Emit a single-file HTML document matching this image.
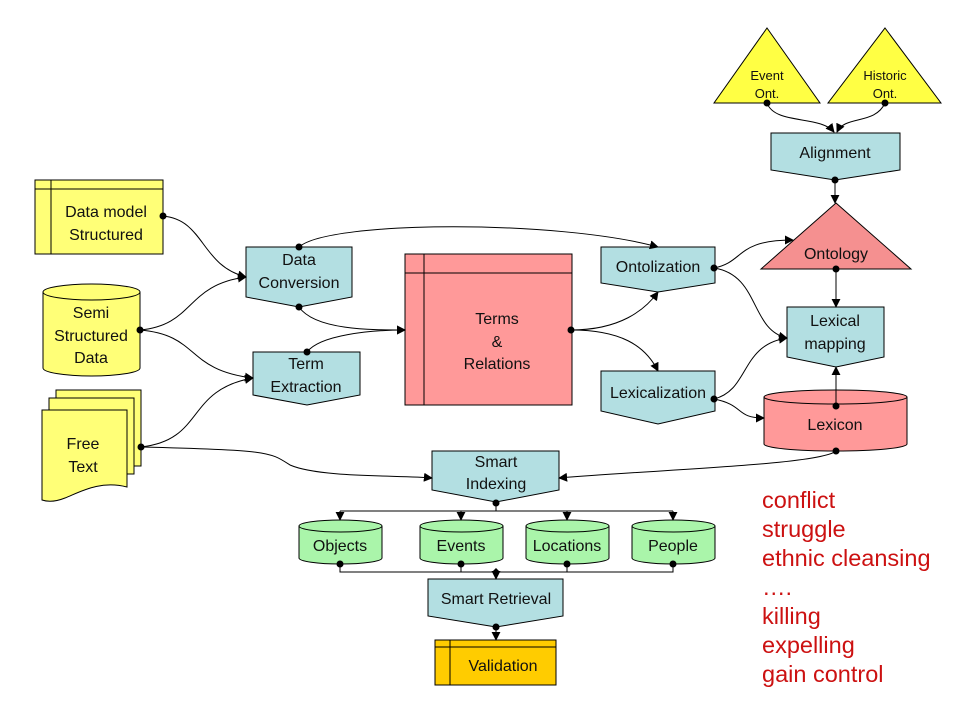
<!DOCTYPE html>
<html><head><meta charset="utf-8"><style>
html,body{margin:0;padding:0;background:#fff;width:960px;height:720px;overflow:hidden}
svg{display:block}
text{font-family:"Liberation Sans",Arial,sans-serif;fill:#111;text-anchor:middle}
.s{stroke:#000;stroke-width:1}
.l{fill:none;stroke:#000;stroke-width:1}
</style></head><body>
<svg width="960" height="720" viewBox="0 0 960 720" xmlns="http://www.w3.org/2000/svg">
<defs>
<marker id="a" viewBox="0 0 10 10" refX="9" refY="5" markerWidth="9" markerHeight="9" orient="auto" markerUnits="userSpaceOnUse"><path d="M0,0L10,5L0,10z" fill="#000"/></marker>
</defs>
<g font-size="16">
<rect x="35" y="180" width="128" height="74" fill="#ffff77" class="s"/>
<line x1="35" y1="189" x2="163" y2="189" class="s"/><line x1="51" y1="180" x2="51" y2="254" class="s"/>
<text x="106" y="217">Data model</text><text x="106" y="240">Structured</text>
<path d="M43,292 L43,368 A48.5,8 0 0 0 140,368 L140,292" fill="#ffff77" class="s"/>
<ellipse cx="91.5" cy="292" rx="48.5" ry="8" fill="#ffff77" class="s"/>
<text x="91" y="318">Semi</text><text x="91" y="341">Structured</text><text x="91" y="363">Data</text>
<rect x="56" y="390" width="85" height="76" fill="#ffff77" class="s"/>
<rect x="49" y="398" width="85" height="76" fill="#ffff77" class="s"/>
<path d="M42,410 L127,410 L127,487 C100,480 80,492 65,498 C55,502 48,502 42,500 Z" fill="#ffff77" class="s"/>
<text x="83" y="449">Free</text><text x="83" y="472">Text</text>
<path d="M246,247 L352,247 L352,297 L299,307 L246,297 Z" fill="#b3dfe2" class="s"/>
<text x="299" y="265">Data</text><text x="299" y="288">Conversion</text>
<path d="M253,352 L360,352 L360,395 L307,405 L253,395 Z" fill="#b3dfe2" class="s"/>
<text x="306" y="369">Term</text><text x="306" y="392">Extraction</text>
<rect x="405" y="254" width="167" height="151" fill="#ff9999" class="s"/>
<line x1="405" y1="273" x2="572" y2="273" class="s"/><line x1="424" y1="254" x2="424" y2="405" class="s"/>
<text x="497" y="324">Terms</text><text x="497" y="347">&amp;</text><text x="497" y="369">Relations</text>
<path d="M601,247 L715,247 L715,283 L658,292 L601,283 Z" fill="#b3dfe2" class="s"/>
<text x="658" y="272">Ontolization</text>
<path d="M601,371 L715,371 L715,411 L658,424 L601,411 Z" fill="#b3dfe2" class="s"/>
<text x="658" y="398">Lexicalization</text>
<path d="M767,28 L820,103 L714,103 Z" fill="#ffff44" class="s"/>
<path d="M885,28 L941,103 L828,103 Z" fill="#ffff44" class="s"/>
<text x="767" y="80" font-size="13">Event</text><text x="767" y="98" font-size="13">Ont.</text>
<text x="885" y="80" font-size="13">Historic</text><text x="885" y="98" font-size="13">Ont.</text>
<path d="M771,133 L900,133 L900,170 L835,180 L771,170 Z" fill="#b3dfe2" class="s"/>
<text x="835" y="158">Alignment</text>
<path d="M836,203 L911,269 L761,269 Z" fill="#f59090" class="s"/>
<text x="836" y="259">Ontology</text>
<path d="M787,307 L884,307 L884,357 L836,367 L787,357 Z" fill="#b3dfe2" class="s"/>
<text x="835" y="326">Lexical</text><text x="835" y="349">mapping</text>
<path d="M764,397 L764,444 A71.5,7 0 0 0 907,444 L907,397" fill="#ff9999" class="s"/>
<ellipse cx="835.5" cy="397" rx="71.5" ry="7" fill="#ff9999" class="s"/>
<text x="835" y="430">Lexicon</text>
<path d="M432,451 L559,451 L559,490 L496,502 L432,490 Z" fill="#b3dfe2" class="s"/>
<text x="496" y="467">Smart</text><text x="496" y="489">Indexing</text>
<g fill="#aaf5aa">
<path d="M299,526 L299,558 A41.5,6 0 0 0 382,558 L382,526" class="s"/><ellipse cx="340.5" cy="526" rx="41.5" ry="6" class="s"/>
<path d="M420,526 L420,558 A41.5,6 0 0 0 503,558 L503,526" class="s"/><ellipse cx="461.5" cy="526" rx="41.5" ry="6" class="s"/>
<path d="M526,526 L526,558 A41.5,6 0 0 0 609,558 L609,526" class="s"/><ellipse cx="567.5" cy="526" rx="41.5" ry="6" class="s"/>
<path d="M632,526 L632,558 A41.5,6 0 0 0 715,558 L715,526" class="s"/><ellipse cx="673.5" cy="526" rx="41.5" ry="6" class="s"/>
</g>
<text x="340" y="551">Objects</text><text x="461" y="551">Events</text><text x="567" y="551">Locations</text><text x="673" y="551">People</text>
<path d="M428,579 L563,579 L563,616 L496,627 L428,616 Z" fill="#b3dfe2" class="s"/>
<text x="496" y="604">Smart Retrieval</text>
<rect x="435" y="640" width="121" height="45" fill="#ffcc00" class="s"/>
<line x1="435" y1="647" x2="556" y2="647" class="s"/><line x1="450" y1="640" x2="450" y2="685" class="s"/>
<text x="503" y="671">Validation</text>
</g>
<g class="l">
<path d="M163,216 C205,220 200,265 246,277" marker-end="url(#a)"/>
<path d="M140,330 C195,325 185,285 246,277" marker-end="url(#a)"/>
<path d="M140,330 C200,335 185,370 253,378" marker-end="url(#a)"/>
<path d="M141,447 C205,440 185,390 253,378" marker-end="url(#a)"/>
<path d="M141,447 C270,450 270,452 290,465 C320,478 400,475 432,478" marker-end="url(#a)"/>
<path d="M299,307 C315,330 370,330 405,330" marker-end="url(#a)"/>
<path d="M307,352 C320,335 370,330 405,330" marker-end="url(#a)"/>
<path d="M299,247 C330,220 560,220 658,247" marker-end="url(#a)"/>
<path d="M571,330 C620,330 645,310 658,292" marker-end="url(#a)"/>
<path d="M571,330 C620,330 645,345 658,371" marker-end="url(#a)"/>
<path d="M714,268 C745,262 735,240 793,240" marker-end="url(#a)"/>
<path d="M714,268 C760,275 750,330 787,338" marker-end="url(#a)"/>
<path d="M714,399 C750,390 740,345 787,338" marker-end="url(#a)"/>
<path d="M714,399 C745,405 735,418 764,418" marker-end="url(#a)"/>
<path d="M767,103 C775,125 820,115 834,132" marker-end="url(#a)"/>
<path d="M885,103 C875,125 845,115 837,132" marker-end="url(#a)"/>
<line x1="835" y1="180" x2="835" y2="203" marker-end="url(#a)"/>
<line x1="836" y1="269" x2="836" y2="307" marker-end="url(#a)"/>
<line x1="836" y1="406" x2="836" y2="367" marker-end="url(#a)"/>
<path d="M836,451 C820,465 650,470 559,478" marker-end="url(#a)"/>
<path d="M496,503 L496,511 M340,511 L673,511"/>
<path d="M340,511 L340,520" marker-end="url(#a)"/><path d="M461,511 L461,520" marker-end="url(#a)"/>
<path d="M567,511 L567,520" marker-end="url(#a)"/><path d="M673,511 L673,520" marker-end="url(#a)"/>
<path d="M340,564 L340,572 L673,572 L673,564 M461,564 L461,572 M567,564 L567,572"/>
<path d="M496,572 L496,579" marker-end="url(#a)"/>
<path d="M496,627 L496,640" marker-end="url(#a)"/>
</g>
<g fill="#000">
<circle cx="163" cy="216" r="3.5"/><circle cx="140" cy="330" r="3.5"/><circle cx="141" cy="447" r="3.5"/>
<circle cx="299" cy="247" r="3.5"/><circle cx="299" cy="307" r="3.5"/><circle cx="307" cy="352" r="3.5"/>
<circle cx="571" cy="330" r="3.5"/><circle cx="714" cy="268" r="3.5"/><circle cx="714" cy="399" r="3.5"/>
<circle cx="767" cy="103" r="3.5"/><circle cx="885" cy="103" r="3.5"/><circle cx="835" cy="180" r="3.5"/>
<circle cx="836" cy="269" r="3.5"/><circle cx="836" cy="406" r="3.5"/><circle cx="836" cy="451" r="3.5"/>
<circle cx="496" cy="503" r="3.5"/><circle cx="340" cy="564" r="3.5"/><circle cx="461" cy="564" r="3.5"/>
<circle cx="567" cy="564" r="3.5"/><circle cx="673" cy="564" r="3.5"/><circle cx="496" cy="627" r="3.5"/>
<path d="M496,568 L500,572 L496,576 L492,572 Z"/>
</g>
<g font-size="23.5">
<text x="762" y="508" style="fill:#cc1111;text-anchor:start">conflict</text>
<text x="762" y="537" style="fill:#cc1111;text-anchor:start">struggle</text>
<text x="762" y="566" style="fill:#cc1111;text-anchor:start">ethnic cleansing</text>
<text x="762" y="595" style="fill:#cc1111;text-anchor:start">….</text>
<text x="762" y="624" style="fill:#cc1111;text-anchor:start">killing</text>
<text x="762" y="653" style="fill:#cc1111;text-anchor:start">expelling</text>
<text x="762" y="682" style="fill:#cc1111;text-anchor:start">gain control</text>
</g>
</svg>
</body></html>
